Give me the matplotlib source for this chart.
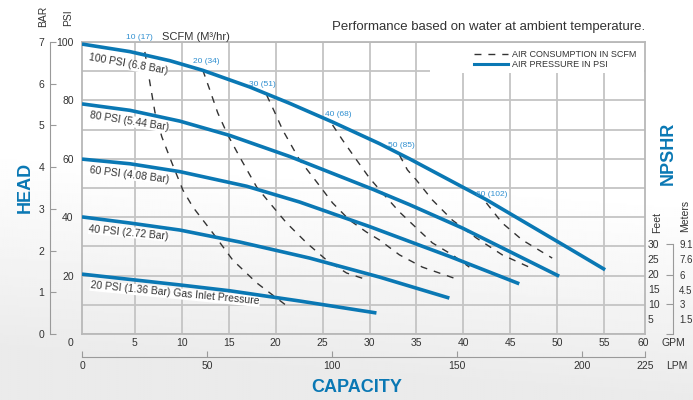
import matplotlib
matplotlib.use('Agg')
import matplotlib.pyplot as plt
from matplotlib.lines import Line2D
from matplotlib.patches import Rectangle
import numpy as np

plt.rcParams['font.family'] = ['Liberation Sans', 'DejaVu Sans']

# air pressure curves: capacity (GPM) vs head (PSI)
psi100_gpm = [-0.64, 4.47, 8.72, 12.23, 17.23, 21.49, 26.06, 31.06, 34.26, 42.45, 51.28, 55.11]
psi100_head = [99.3, 96.7, 93.6, 90.3, 84.6, 79.0, 72.6, 65.2, 60.0, 46.0, 29.3, 22.0]
psi80_gpm = [-0.64, 4.47, 9.79, 15.11, 21.49, 30.32, 34.26, 39.89, 50.21]
psi80_head = [78.8, 76.6, 72.9, 68.0, 60.8, 49.6, 44.3, 36.3, 19.8]
psi60_gpm = [-0.64, 4.47, 9.79, 16.91, 22.55, 30.0, 38.51, 45.96]
psi60_head = [59.9, 58.3, 55.6, 50.6, 45.2, 36.8, 26.6, 17.2]
psi40_gpm = [-0.64, 4.47, 9.79, 16.17, 23.62, 31.06, 38.51]
psi40_head = [40.1, 38.0, 35.6, 31.5, 26.0, 19.5, 12.3]
psi20_gpm = [-0.64, 9.79, 15.11, 22.55, 30.74]
psi20_head = [20.5, 16.8, 14.8, 11.3, 7.2]

# air consumption curves (SCFM)
scfm10_gpm = [6.06, 6.60, 7.13, 7.87, 8.94, 10.11, 11.17, 13.30, 15.43, 17.98, 21.49]
scfm10_head = [96.6, 86.0, 76.0, 67.5, 58.6, 49.3, 43.5, 34.6, 25.3, 17.5, 8.9]
scfm20_gpm = [12.23, 12.98, 13.83, 14.89, 16.17, 17.98, 19.36, 21.17, 23.30, 25.43, 27.55, 29.79]
scfm20_head = [90.4, 83.6, 75.7, 68.2, 60.6, 50.3, 44.9, 38.0, 31.2, 25.3, 20.9, 18.5]
scfm30_gpm = [19.04, 19.89, 20.74, 22.55, 24.36, 26.06, 27.87, 29.68, 31.06, 33.19, 35.64, 39.57]
scfm30_head = [81.8, 76.0, 69.9, 59.6, 52.1, 44.9, 39.0, 34.9, 32.2, 27.1, 22.9, 18.5]
scfm40_gpm = [26.06, 27.13, 28.62, 30.0, 31.38, 33.19, 35.0, 36.70, 38.83, 40.64]
scfm40_head = [71.6, 66.4, 59.6, 53.4, 48.3, 41.8, 36.3, 31.2, 27.1, 22.9]
scfm50_gpm = [33.19, 34.04, 35.0, 36.70, 38.83, 41.38, 44.15, 47.02]
scfm50_head = [61.3, 56.2, 52.7, 45.9, 39.0, 32.9, 27.1, 22.9]
scfm60_gpm = [42.45, 44.15, 46.28, 49.47]
scfm60_head = [44.9, 38.0, 32.2, 26.0]

pressure_labels = ['100 PSI (6.8 Bar)', '80 PSI (5.44 Bar)', '60 PSI (4.08 Bar)',
                   '40 PSI (2.72 Bar)', '20 PSI (1.36 Bar) Gas Inlet Pressure']
scfm_labels = ['10 (17)', '20 (34)', '30 (51)', '40 (68)', '50 (85)', '60 (102)']

gpm_ticks = [5, 10, 15, 20, 25, 30, 35, 40, 45, 50, 55]
psi_ticks = [0, 10, 20, 30, 40, 50, 60, 70, 80, 90, 100]
bar_ticks = [0, 1, 2, 3, 4, 5, 6, 7]
lpm_ticks = [0, 50, 100, 150, 200, 225]
feet_ticks = [5, 10, 15, 20, 25, 30]
meter_major = [0, 3, 6, 9.1]
meter_minor = [1.5, 4.5, 7.6]

BLUE = '#0a78b4'
LIGHT_BLUE = '#2f8fd0'
TXT = '#333333'
GRID = '#c4c4c4'
AXIS = '#9a9a9a'

W, H = 693, 400


def fx(x, y):
    return x / W, 1 - y / H


fig = plt.figure(figsize=(W / 100, H / 100), dpi=100)

# soft grey background
bg = fig.add_axes([0, 0, 1, 1], zorder=-10)
yy, xx = np.mgrid[0:1:200j, 0:1:350j]
shade = 1 - 0.08 * np.clip((yy - 0.5) / 0.5 + 0.25 * (1 - xx), 0, 1)
bg.imshow(shade, cmap='gray', vmin=0, vmax=1, aspect='auto', extent=[0, 1, 0, 1])
bg.axis('off')

ax = fig.add_axes([82 / W, 66 / H, 563 / W, 292 / H])
ax.set_facecolor('none')
ax.set_xlim(-0.64, 59.36)
ax.set_ylim(0, 100)
ax.set_xticks(gpm_ticks)
ax.set_yticks(psi_ticks)
ax.set_yticklabels([str(v) if v and v % 20 == 0 else '' for v in psi_ticks])
ax.grid(True, color=GRID, lw=1.3)
ax.set_axisbelow(True)
ax.tick_params(axis='both', length=0, labelsize=7.5, labelcolor=TXT)
ax.tick_params(axis='x', pad=3)
ax.tick_params(axis='y', pad=6)
for s in ax.spines.values():
    s.set_color('#b8b8b8')
    s.set_linewidth(1.3)

# white area behind the legend
ax.add_patch(Rectangle((0.618, 0.894), 0.38, 0.104, transform=ax.transAxes,
                       facecolor='white', edgecolor='none', zorder=1))

for g, h in [(psi100_gpm, psi100_head), (psi80_gpm, psi80_head), (psi60_gpm, psi60_head),
             (psi40_gpm, psi40_head), (psi20_gpm, psi20_head)]:
    ax.plot(g, h, color=BLUE, lw=2.6, solid_capstyle='butt', solid_joinstyle='round', zorder=5)

for g, h in [(scfm10_gpm, scfm10_head), (scfm20_gpm, scfm20_head), (scfm30_gpm, scfm30_head),
             (scfm40_gpm, scfm40_head), (scfm50_gpm, scfm50_head), (scfm60_gpm, scfm60_head)]:
    ax.plot(g, h, color='#333333', lw=1.0, ls=(0, (5, 5)), zorder=3)

# curve labels
label_pos = [(4.26, 92.3, -10), (4.36, 72.9, -9), (4.36, 54.6, -7), (4.36, 34.8, -5.5), (9.26, 13.9, -5.5)]
for txt, (x, y, r) in zip(pressure_labels, label_pos):
    ax.text(x, y, txt, fontsize=7.5, color=TXT, rotation=r, rotation_mode='anchor',
            ha='center', va='center', zorder=4,
            bbox=dict(boxstyle='square,pad=0.05', fc='white', ec='none'))

scfm_pos = [(5.43, 101.7), (12.55, 93.2), (18.62, 85.6), (26.70, 75.0), (33.40, 64.4), (42.98, 47.9)]
for txt, (x, y) in zip(scfm_labels, scfm_pos):
    ax.text(x, y, txt, fontsize=6, color=LIGHT_BLUE, ha='center', va='center', zorder=6, clip_on=False)
ax.text(11.49, 101.7, 'SCFM (M³/hr)', fontsize=8, color=TXT, ha='center', va='center', clip_on=False)

handles = [Line2D([], [], color='#333333', lw=1.0, ls=(0, (5, 5))),
           Line2D([], [], color=BLUE, lw=2.2)]
leg = ax.legend(handles, ['AIR CONSUMPTION IN SCFM', 'AIR PRESSURE IN PSI'], loc='upper right',
                bbox_to_anchor=(1.0, 1.0), frameon=False, fontsize=6.5, handlelength=3.8,
                handletextpad=0.5, labelspacing=0.15, borderaxespad=0.5)
for t in leg.get_texts():
    t.set_color(TXT)

# BAR axis on the far left
ax_bar = ax.twinx()
ax_bar.set_ylim(0, 7)
ax_bar.yaxis.tick_left()
ax_bar.spines['left'].set_position(('axes', (50 - 82) / 563))
ax_bar.spines['left'].set_visible(True)
for s in ['right', 'top', 'bottom']:
    ax_bar.spines[s].set_visible(False)
ax_bar.spines['left'].set_color(AXIS)
ax_bar.set_yticks(bar_ticks)
ax_bar.tick_params(axis='y', direction='in', length=4, color=AXIS, labelsize=7.5,
                   labelcolor=TXT, pad=4)

# LPM axis below
ax_lpm = ax.twiny()
ax_lpm.set_xlim(0, 225)
ax_lpm.xaxis.tick_bottom()
for s in ['right', 'top', 'left']:
    ax_lpm.spines[s].set_visible(False)
ax_lpm.spines['bottom'].set_visible(True)
ax_lpm.spines['bottom'].set_position(('outward', 16.5))
ax_lpm.spines['bottom'].set_bounds(0, 225)
ax_lpm.spines['bottom'].set_color(AXIS)
ax_lpm.set_xticks(lpm_ticks)
ax_lpm.tick_params(axis='x', direction='in', length=4, color=AXIS, labelsize=7.5,
                   labelcolor=TXT, pad=3)

# NPSHR feet scale
ax_ft = ax.twinx()
ax_ft.set_ylim(0, 97.3)
for s in ax_ft.spines.values():
    s.set_visible(False)
ax_ft.set_yticks(feet_ticks)
ax_ft.tick_params(axis='y', length=0, labelsize=7.5, labelcolor=TXT, pad=2)

# NPSHR meters scale
ax_m = ax.twinx()
ax_m.set_ylim(0, 97.3 * 0.3048)
for s in ['left', 'top', 'bottom']:
    ax_m.spines[s].set_visible(False)
ax_m.spines['right'].set_position(('axes', 1 + 28 / 563))
ax_m.spines['right'].set_bounds(0, 9.1)
ax_m.spines['right'].set_color(AXIS)
ax_m.set_yticks(meter_major)
ax_m.set_yticklabels(['' if v == 0 else ('%g' % v) for v in meter_major])
ax_m.set_yticks(meter_minor, minor=True)
ax_m.set_yticklabels(['%g' % v for v in meter_minor], minor=True)
ax_m.tick_params(axis='y', which='major', direction='in', length=5, color=AXIS,
                 labelsize=7, labelcolor=TXT, pad=4.5)
ax_m.tick_params(axis='y', which='minor', length=0, labelsize=7, labelcolor=TXT, pad=4.5)

# loose texts
fig.text(*fx(645, 27), 'Performance based on water at ambient temperature.', fontsize=9.5,
         color=TXT, ha='right', va='center')
fig.text(*fx(43, 16), 'BAR', fontsize=7.5, color=TXT, rotation=90, ha='center', va='center')
fig.text(*fx(68, 18), 'PSI', fontsize=7.5, color=TXT, rotation=90, ha='center', va='center')
fig.text(*fx(25, 187), 'HEAD', fontsize=13, fontweight='bold', color=BLUE, rotation=90,
         ha='center', va='center')
fig.text(*fx(70, 343), '0', fontsize=7.5, color=TXT, ha='center', va='center')
fig.text(*fx(643, 343), '60', fontsize=7.5, color=TXT, ha='center', va='center')
fig.text(*fx(673, 343), 'GPM', fontsize=7.5, color=TXT, ha='center', va='center')
fig.text(*fx(677, 366), 'LPM', fontsize=7.5, color=TXT, ha='center', va='center')
fig.text(*fx(357, 388), 'CAPACITY', fontsize=13, fontweight='bold', color=BLUE,
         ha='center', va='center')
fig.text(*fx(668, 153), 'NPSHR', fontsize=13, fontweight='bold', color=BLUE, rotation=90,
         ha='center', va='center')
fig.text(*fx(657, 222), 'Feet', fontsize=7.5, color=TXT, rotation=90, ha='center', va='center')
fig.text(*fx(685, 216), 'Meters', fontsize=7.5, color=TXT, rotation=90, ha='center', va='center')

fig.savefig('out.png', dpi=100)
